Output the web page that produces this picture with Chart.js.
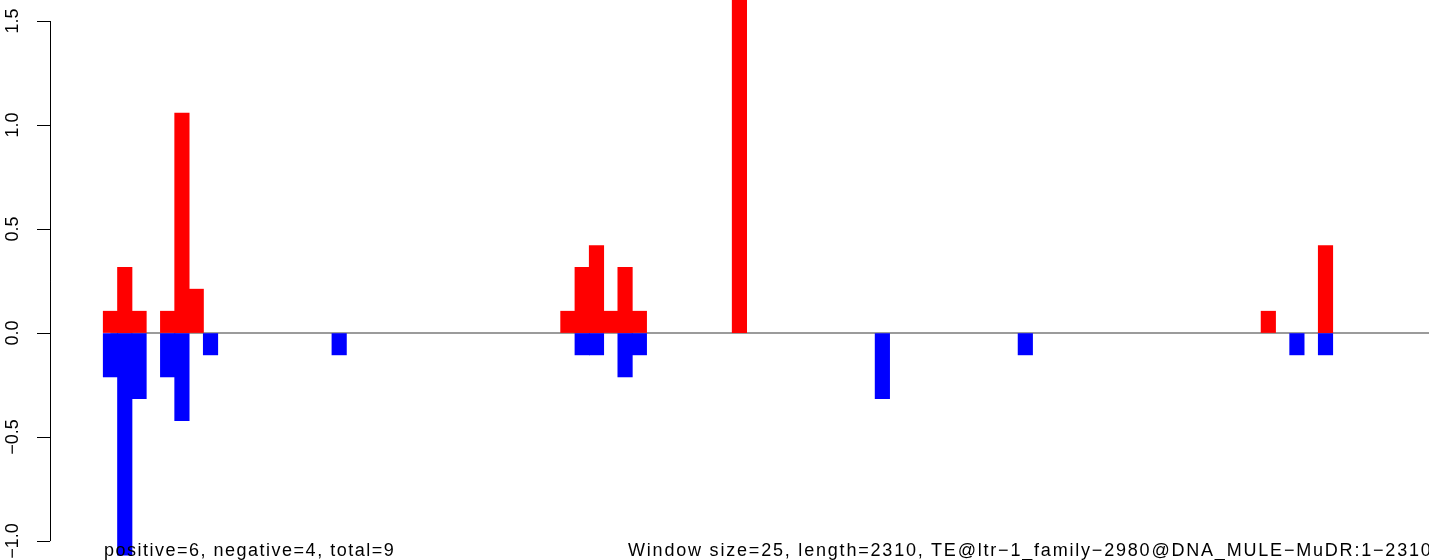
<!DOCTYPE html>
<html>
<head>
<meta charset="utf-8">
<title>Window signal</title>
<script src="https://cdn.jsdelivr.net/npm/chart.js@4.4.1/dist/chart.umd.min.js"></script>
<style>
  html, body { margin: 0; padding: 0; background: #fff; overflow: hidden; }
  #wrap { position: relative; width: 1429px; height: 560px; overflow: hidden; }
  .note {
    position: absolute;
    top: 541px;
    font: 18px/18px "Liberation Sans", Arial, Helvetica, sans-serif;
    letter-spacing: 1.5px;
    color: #000;
    white-space: nowrap;
  }
  #note-left { left: 104px; }
  #note-right { left: 628px; letter-spacing: 1.8px; }
</style>
</head>
<body>
<div id="wrap">
  <canvas id="windowChart" width="1429" height="560"></canvas>
  <div class="note" id="note-left"></div>
  <div class="note" id="note-right"></div>
</div>
<script>
// Window setup
const windowSize = 25;
const seqLength = 2310;
const nWindows = Math.ceil(seqLength / windowSize);
const teName = "TE@ltr\u22121_family\u22122980@DNA_MULE\u2212MuDR:1\u22122310";

// Red bars (above zero)
const posWindows = [0, 1, 2, 4, 5, 6, 32, 33, 34, 35, 36, 37, 44, 81, 85];
const posValues = [0.105, 0.316, 0.105, 0.105, 1.058, 0.211, 0.105, 0.316, 0.421, 0.105, 0.316, 0.105, 2.0, 0.105, 0.421];

// Blue bars (below zero)
const negWindows = [0, 1, 2, 4, 5, 7, 16, 33, 34, 36, 37, 54, 64, 83, 85];
const negValues = [-0.211, -1.068, -0.316, -0.211, -0.421, -0.105, -0.105, -0.105, -0.105, -0.211, -0.105, -0.316, -0.105, -0.105, -0.105];

// Axis ticks and visible ranges
const yTicks = [-1.0, -0.5, 0.0, 0.5, 1.0, 1.5];
const yRange = [-1.091, 1.601];
const xRange = [-4.23, 92.24];

const FONT = '"Liberation Sans", Arial, Helvetica, sans-serif';

function toPoints(xs, ys) {
  return xs.map((x, i) => ({ x: x, y: ys[i] }));
}

// R style minus sign
function fmtTick(v) {
  return Number(v).toFixed(1).replace("-", "\u2212");
}

// y axis line only between first and last tick, like R's axis()
const axisLinePlugin = {
  id: "axisLine",
  afterDraw(chart) {
    const scale = chart.scales.y;
    const ctx = chart.ctx;
    const x = Math.round(scale.right) + 0.5;
    ctx.save();
    ctx.strokeStyle = "#000";
    ctx.lineWidth = 1;
    ctx.beginPath();
    ctx.moveTo(x, scale.getPixelForValue(yTicks[0]));
    ctx.lineTo(x, scale.getPixelForValue(yTicks[yTicks.length - 1]));
    ctx.stroke();
    ctx.restore();
  },
};

function renderWindowChart() {
  const ctx = document.getElementById("windowChart").getContext("2d");
  new Chart(ctx, {
    type: "bar",
    data: {
      datasets: [
        {
          label: "positive",
          data: toPoints(posWindows, posValues),
          backgroundColor: "#ff0000",
          borderWidth: 0,
          barThickness: 14.5,
          grouped: false,
          order: 1,
        },
        {
          label: "negative",
          data: toPoints(negWindows, negValues),
          backgroundColor: "#0000ff",
          borderWidth: 0,
          barThickness: 14.5,
          grouped: false,
          order: 2,
        },
        {
          type: "line",
          label: "zero",
          data: [
            { x: 0, y: 0 },
            { x: nWindows, y: 0 },
          ],
          borderColor: "#7a7a7a",
          borderWidth: 1.5,
          pointRadius: 0,
          order: 5,
        },
      ],
    },
    options: {
      responsive: false,
      animation: false,
      devicePixelRatio: 1,
      layout: { padding: 0 },
      plugins: {
        legend: { display: false },
        tooltip: { enabled: false },
      },
      scales: {
        x: {
          type: "linear",
          min: xRange[0],
          max: xRange[1],
          offset: false,
          display: false,
        },
        y: {
          min: yRange[0],
          max: yRange[1],
          afterBuildTicks: (scale) => {
            scale.ticks = yTicks.map((v) => ({ value: v }));
          },
          afterFit: (scale) => {
            scale.width = 50;
            scale.paddingTop = 0;
            scale.paddingBottom = 0;
          },
          border: { display: false },
          grid: {
            drawOnChartArea: false,
            drawTicks: true,
            tickLength: 13,
            color: "#000",
            lineWidth: 1,
          },
          ticks: {
            minRotation: 90,
            maxRotation: 90,
            crossAlign: "center",
            padding: 6,
            color: "#000",
            font: { family: FONT, size: 18 },
            callback: (v) => fmtTick(v),
          },
        },
      },
    },
    plugins: [axisLinePlugin],
  });
}

document.getElementById("note-left").textContent = "positive=6, negative=4, total=9";
document.getElementById("note-right").textContent =
  "Window size=" + windowSize + ", length=" + seqLength + ", " + teName;

renderWindowChart();
</script>
</body>
</html>
